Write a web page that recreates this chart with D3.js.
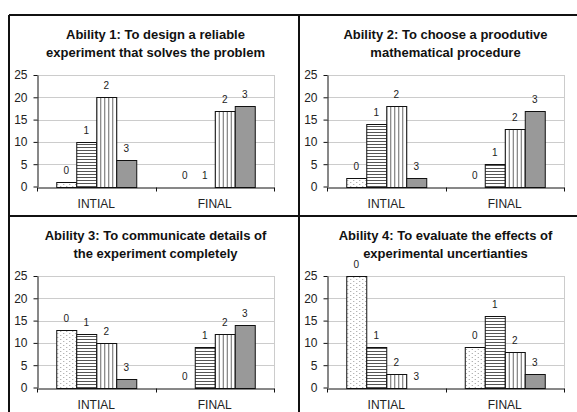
<!DOCTYPE html>
<html>
<head>
<meta charset="utf-8">
<script src="https://cdn.jsdelivr.net/npm/d3@7"></script>
<style>
  html, body { margin: 0; padding: 0; background: #ffffff; }
  svg { display: block; font-family: "Liberation Sans", Arial, sans-serif; }
</style>
</head>
<body>
<svg id="chart" width="577" height="412"></svg>
<script>
// ---- data ----
const categories = ["INTIAL", "FINAL"];
const seriesNames = ["0", "1", "2", "3"];
const yTicks = [0, 5, 10, 15, 20, 25];

const title1 = ["Ability 1: To design a reliable", "experiment that solves the problem"];
const title2 = ["Ability 2: To choose a proodutive", "mathematical procedure"];
const title3 = ["Ability 3: To communicate details of", "the experiment completely"];
const title4 = ["Ability 4: To evaluate the effects of", "experimental uncertianties"];

const a1Initial = [1, 10, 20, 6];
const a1Final   = [0, 0, 17, 18];
const a2Initial = [2, 14, 18, 2];
const a2Final   = [0, 5, 13, 17];
const a3Initial = [13, 12, 10, 2];
const a3Final   = [0, 9, 12, 14];
const a4Initial = [25, 9, 3, 0];
const a4Final   = [9, 16, 8, 3];

const panels = [
  { title: title1, values: [a1Initial, a1Final], ox: 9,   oy: 15 },
  { title: title2, values: [a2Initial, a2Final], ox: 299, oy: 15 },
  { title: title3, values: [a3Initial, a3Final], ox: 9,   oy: 216 },
  { title: title4, values: [a4Initial, a4Final], ox: 299, oy: 216 }
];

// ---- drawing ----
const svg = d3.select("#chart");
svg.append("rect").attr("width", 577).attr("height", 412).attr("fill", "#ffffff");

// patterns
const defs = svg.append("defs");
const pDot = defs.append("pattern").attr("id", "pat0").attr("patternUnits", "userSpaceOnUse")
  .attr("width", 6).attr("height", 4);
pDot.append("rect").attr("width", 6).attr("height", 4).attr("fill", "#ffffff");
pDot.append("rect").attr("x", 1).attr("y", 1).attr("width", 1).attr("height", 1).attr("fill", "#9a9a9a");
pDot.append("rect").attr("x", 4).attr("y", 3).attr("width", 1).attr("height", 1).attr("fill", "#9a9a9a");

const pH = defs.append("pattern").attr("id", "pat1").attr("patternUnits", "userSpaceOnUse")
  .attr("width", 4).attr("height", 3);
pH.append("rect").attr("width", 4).attr("height", 3).attr("fill", "#ffffff");
pH.append("rect").attr("y", 0).attr("width", 4).attr("height", 1).attr("fill", "#555555");

const pV = defs.append("pattern").attr("id", "pat2").attr("patternUnits", "userSpaceOnUse")
  .attr("width", 4).attr("height", 4);
pV.append("rect").attr("width", 4).attr("height", 4).attr("fill", "#ffffff");
pV.append("rect").attr("x", 0).attr("width", 1).attr("height", 4).attr("fill", "#666666");

const fills = ["url(#pat0)", "url(#pat1)", "url(#pat2)", "#999999"];

// panel geometry (relative)
const plotLeft = 28, plotRight = 265, plotTop = 60, plotBottom = 171.5;

const y = d3.scaleLinear().domain([0, 25]).range([plotBottom, plotTop]);
const x0 = d3.scaleBand().domain(categories).range([plotLeft, plotRight])
  .paddingInner(0.325).paddingOuter(0.1625);
const x1 = d3.scaleBand().domain(seriesNames).range([0, x0.bandwidth()]);

panels.forEach(p => {
  const g = svg.append("g").attr("transform", `translate(${p.ox},${p.oy})`);

  // title
  const t = g.append("text").attr("text-anchor", "middle")
    .attr("font-size", 13).attr("font-weight", "bold").attr("fill", "#111");
  p.title.forEach((line, i) => {
    t.append("tspan").attr("x", (plotLeft + plotRight) / 2).attr("y", 24 + i * 18).text(line);
  });

  // gridlines
  g.append("g").selectAll("line").data(yTicks.filter(d => d > 0)).join("line")
    .attr("x1", plotLeft).attr("x2", plotRight)
    .attr("y1", d => Math.round(y(d)) + 0.5).attr("y2", d => Math.round(y(d)) + 0.5)
    .attr("stroke", "#cccccc").attr("stroke-width", 1);
  // plot area right border
  g.append("line").attr("x1", plotRight + 0.5).attr("x2", plotRight + 0.5)
    .attr("y1", y(25)).attr("y2", y(0)).attr("stroke", "#cccccc");

  // bars
  categories.forEach((cat, ci) => {
    const vals = p.values[ci];
    const cg = g.append("g").attr("transform", `translate(${x0(cat)},0)`);
    cg.selectAll("rect").data(vals.map((v, si) => ({ v, si })).filter(d => d.v > 0)).join("rect")
      .attr("x", d => Math.round(x1(seriesNames[d.si])) + 0.5)
      .attr("y", d => Math.round(y(d.v)) + 0.5)
      .attr("width", Math.round(x1.bandwidth()))
      .attr("height", d => Math.round(y(0)) - Math.round(y(d.v)))
      .attr("fill", d => fills[d.si])
      .attr("stroke", "#111").attr("stroke-width", 1);
    cg.selectAll("text").data(vals.map((v, si) => ({ v, si }))).join("text")
      .attr("x", d => x1(seriesNames[d.si]) + x1.bandwidth() / 2)
      .attr("y", d => y(d.v) - 8)
      .attr("text-anchor", "middle").attr("font-size", 10).attr("fill", "#222")
      .text(d => seriesNames[d.si]);
  });

  // y axis
  const ya = g.append("g").attr("transform", `translate(${plotLeft + 0.5},0)`)
    .call(d3.axisLeft(y).tickValues(yTicks).tickSize(4).tickPadding(6).tickSizeOuter(0));
  ya.select(".domain").attr("stroke", "#111");
  ya.selectAll(".tick line").attr("stroke", "#111");
  ya.selectAll(".tick text").attr("font-size", 12).attr("fill", "#222")
    .attr("font-family", "Liberation Sans, Arial, sans-serif");

  // x axis
  const xa = g.append("g").attr("transform", `translate(0,${Math.round(plotBottom) + 0.5})`)
    .call(d3.axisBottom(x0).tickSize(0).tickPadding(12).tickSizeOuter(0));
  xa.select(".domain").attr("stroke", "#111");
  xa.selectAll(".tick text").attr("font-size", 12).attr("fill", "#222")
    .attr("font-family", "Liberation Sans, Arial, sans-serif");
  // category separator ticks
  const sepTicks = [plotLeft, (plotLeft + plotRight) / 2, plotRight];
  xa.append("g").selectAll("line").data(sepTicks).join("line")
    .attr("x1", d => Math.round(d) + 0.5).attr("x2", d => Math.round(d) + 0.5)
    .attr("y1", 0).attr("y2", 4).attr("stroke", "#111");
});

// panel borders
const borders = svg.append("g").attr("stroke", "#111").attr("stroke-width", 2);
[[9, 15, 577, 15], [9, 216, 577, 216], [9, 15, 9, 412], [299, 15, 299, 412]].forEach(l => {
  borders.append("line").attr("x1", l[0]).attr("y1", l[1]).attr("x2", l[2]).attr("y2", l[3]);
});
</script>
</body>
</html>
